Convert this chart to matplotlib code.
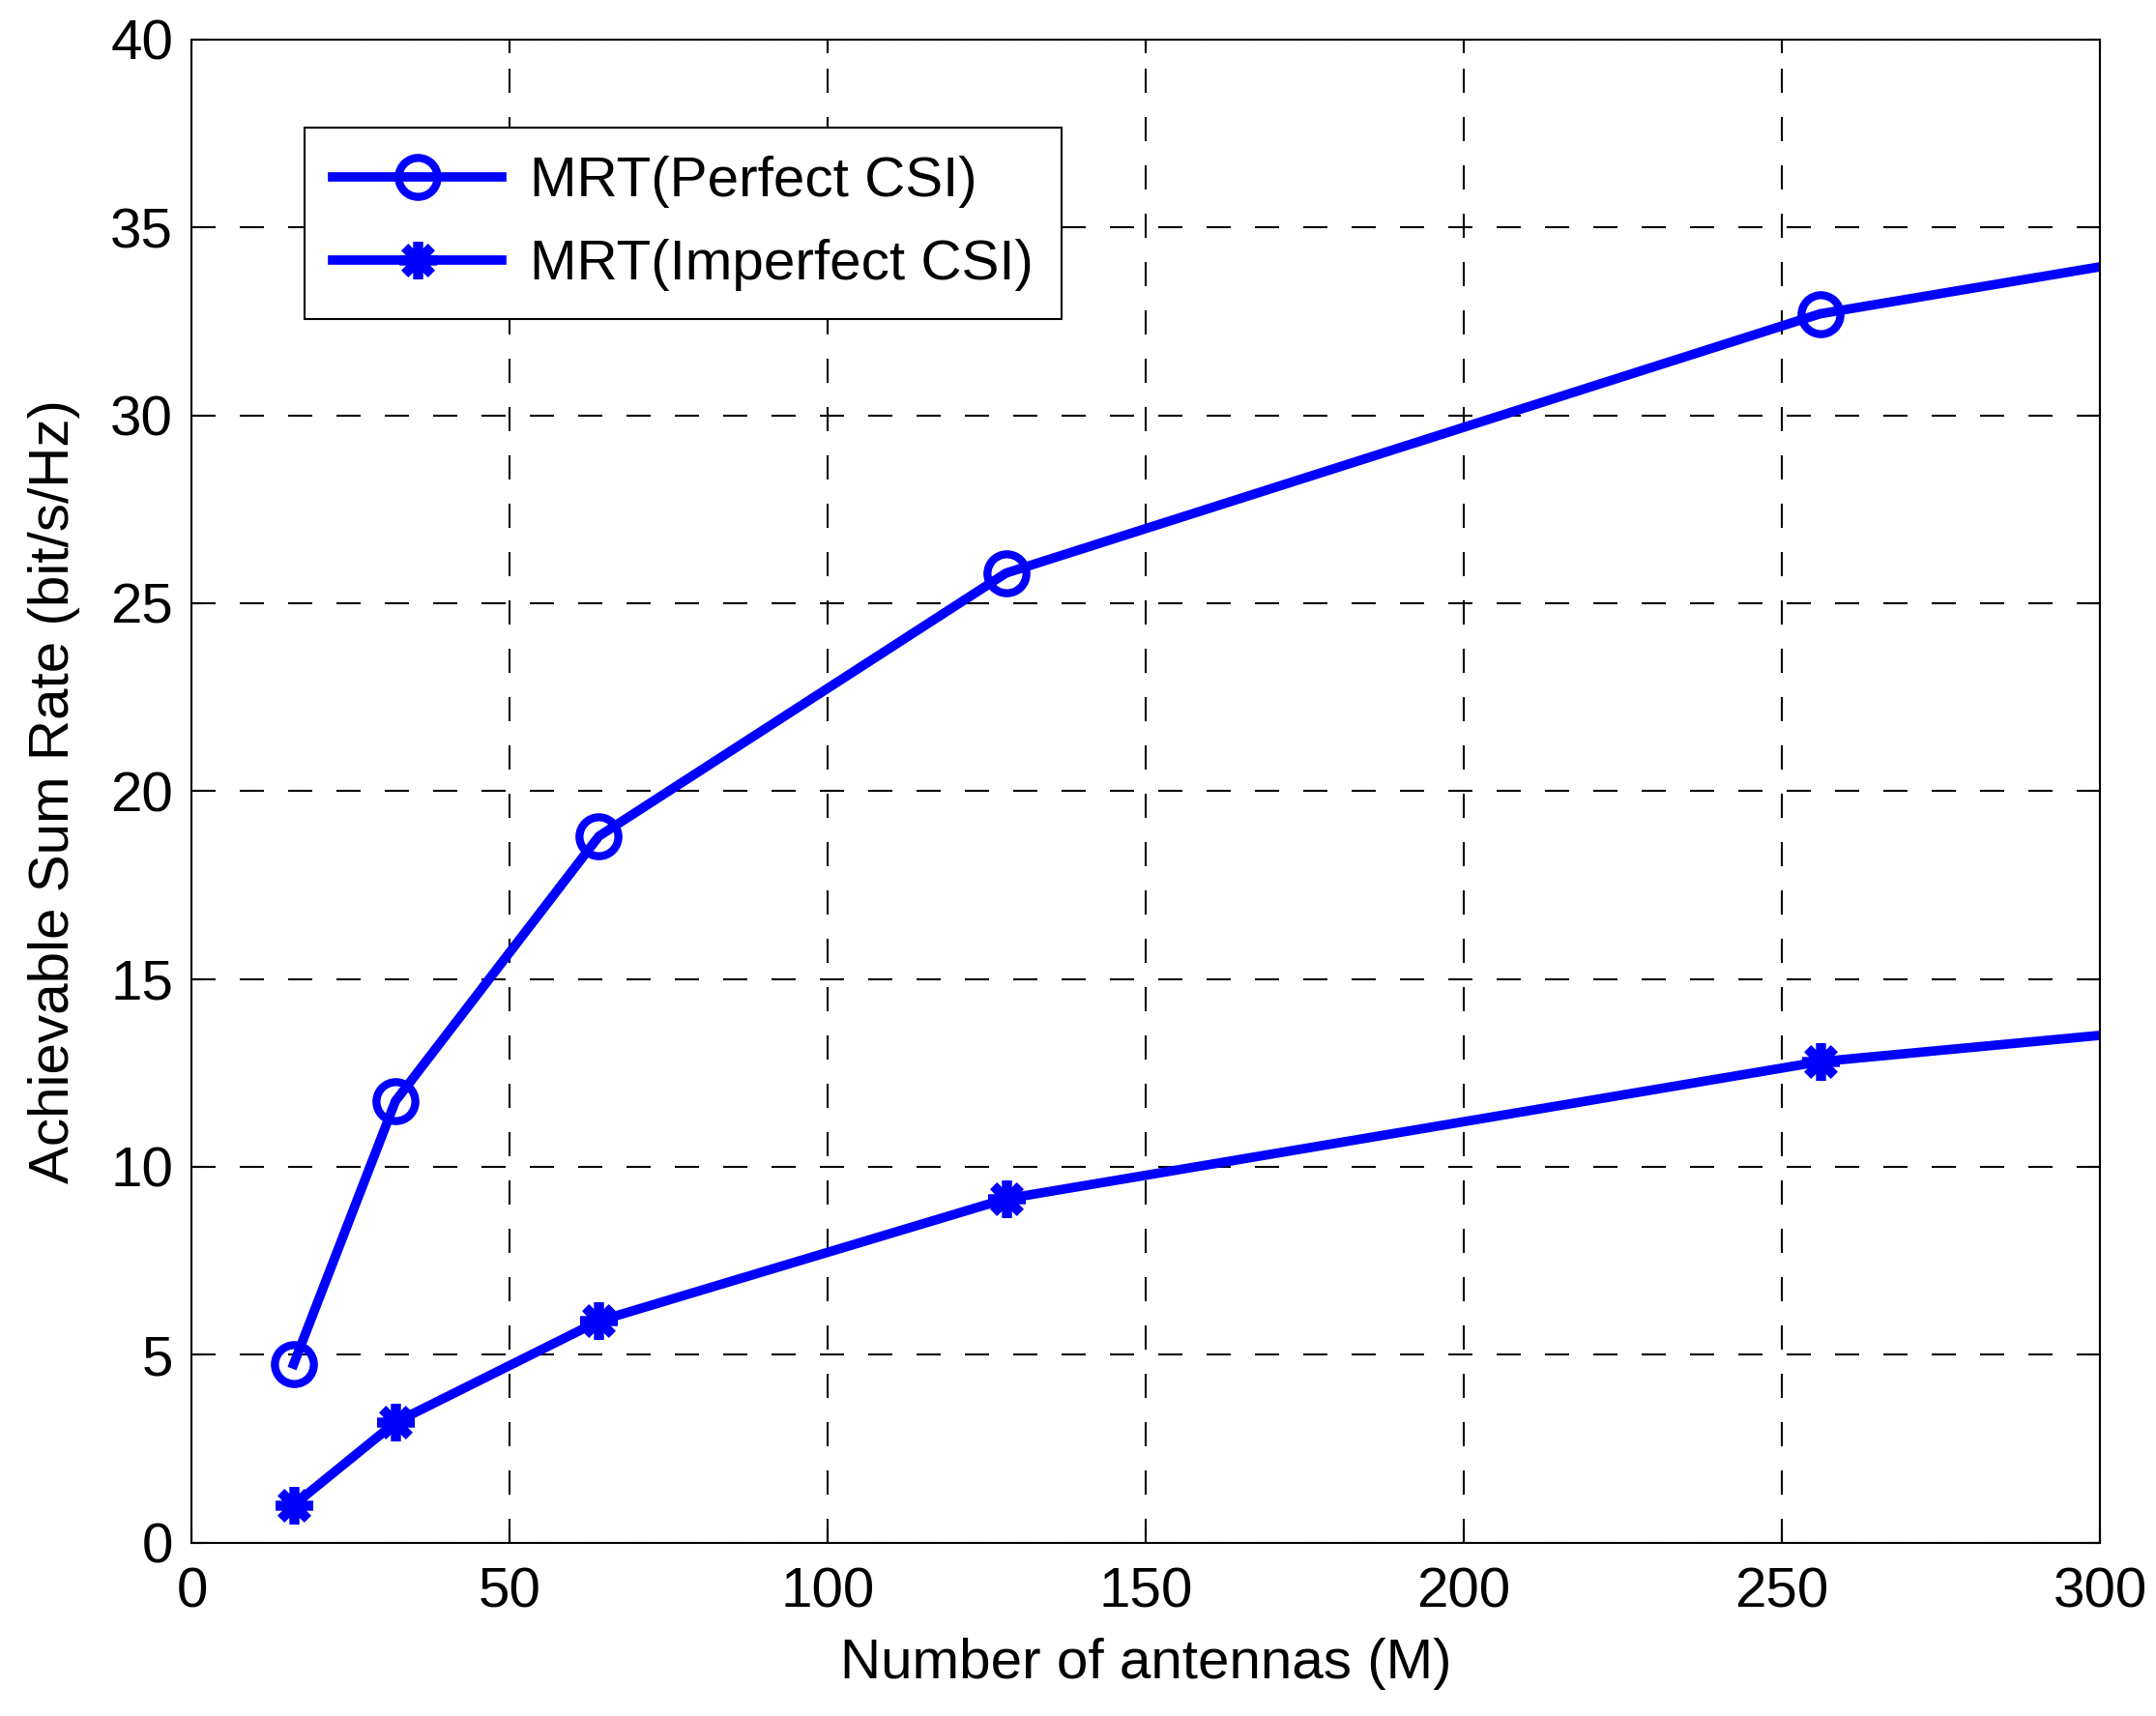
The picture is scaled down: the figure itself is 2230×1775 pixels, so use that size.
import matplotlib
matplotlib.use('Agg')
import matplotlib.pyplot as plt

plt.rcParams['font.family'] = ['Liberation Sans', 'DejaVu Sans']

# 天线数 M
antennas = [16, 32, 64, 128, 256, 300]
rate_perfect = [4.75, 11.75, 18.8, 25.8, 32.7, 33.95]
rate_imperfect = [1.0, 3.2, 5.9, 9.15, 12.8, 13.5]
labels = ['MRT(Perfect CSI)', 'MRT(Imperfect CSI)']

fig = plt.figure(figsize=(22.3, 17.75), dpi=100, facecolor='white')
ax = fig.add_axes([0.089, 0.101, 0.885, 0.876])

blue = '#0000ff'
ax.plot(antennas, rate_perfect, color=blue, lw=7, marker='o', ms=29,
        mew=6, mfc='none', mec=blue, markevery=[0, 1, 2, 3, 4], label=labels[0])
ax.plot(antennas, rate_imperfect, color=blue, lw=7, marker=(8, 2, 0), ms=28,
        mew=7, mec=blue, markevery=[0, 1, 2, 3, 4], label=labels[1])

ax.set_xlim(0, 300)
ax.set_ylim(0, 40)
ax.set_xticks(range(0, 301, 50))
ax.set_yticks(range(0, 41, 5))
ax.tick_params(axis='both', direction='in', length=10, width=1.5,
               top=True, right=True, labelsize=42)
ax.tick_params(axis='x', pad=18)
ax.tick_params(axis='y', pad=14)
for s in ax.spines.values():
    s.set_linewidth(1.5)

ax.grid(True, color='black', linestyle=(0, (12, 12)), linewidth=1.5)
ax.set_xlabel('Number of antennas (M)', fontsize=42, labelpad=14)
ax.set_ylabel('Achievable Sum Rate (bit/s/Hz)', fontsize=42, labelpad=22)

leg = ax.legend(loc='upper left', bbox_to_anchor=(0.059, 0.9415), borderaxespad=0,
                fontsize=42, fancybox=False, framealpha=1, edgecolor='black',
                handlelength=3.0, handletextpad=0.5, borderpad=0.5, labelspacing=0.55)
leg.get_frame().set_linewidth(1.5)

fig.savefig('out.png', dpi=100, facecolor='white')
plt.close()
